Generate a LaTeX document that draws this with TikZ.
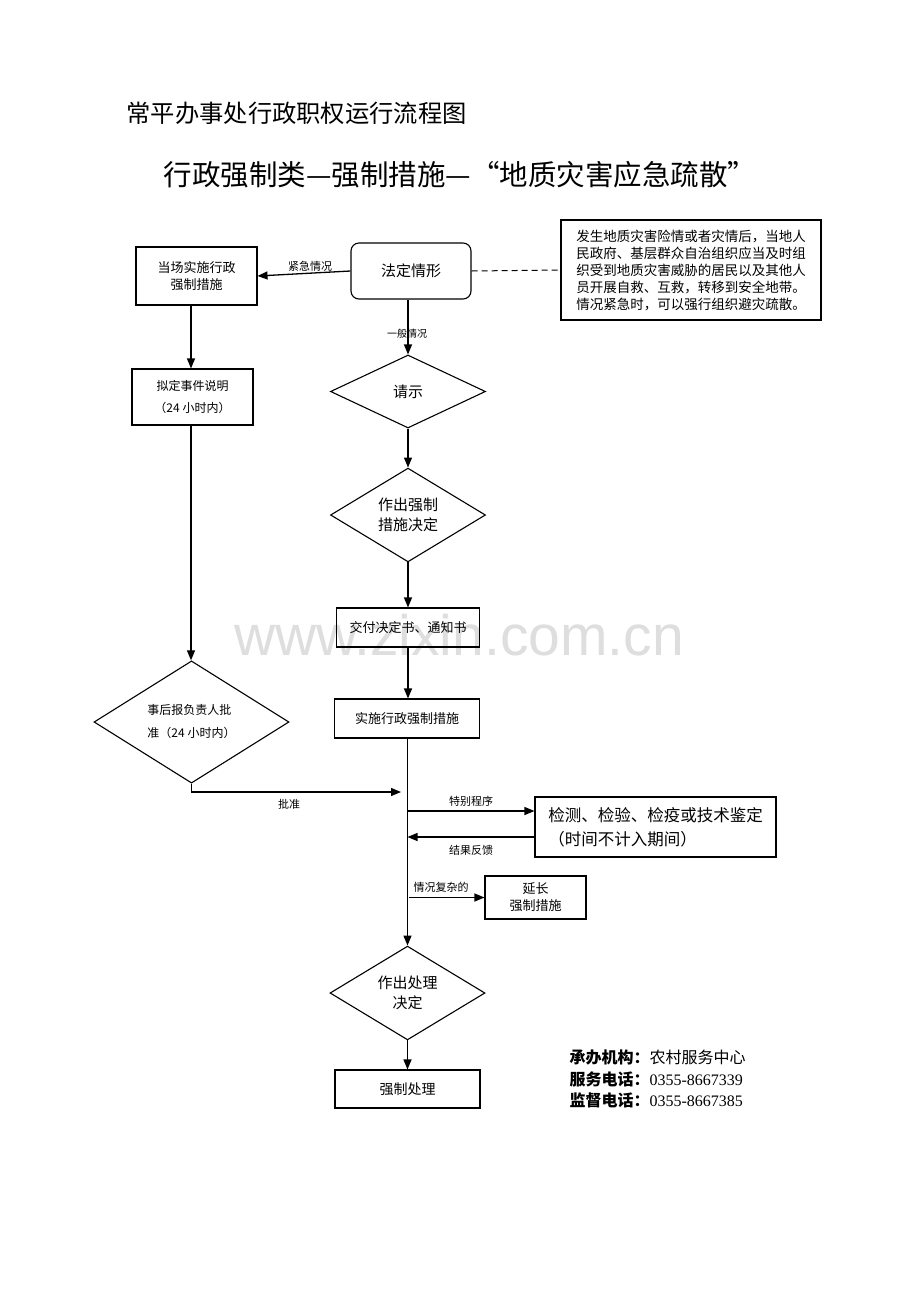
\documentclass[tikz,border=0pt]{standalone}
\usepackage{fontspec}
\setmainfont{Liberation Serif}
\newfontfamily\cjk{Noto Sans CJK SC}
\newfontfamily\wmfont{Liberation Sans}
\usetikzlibrary{arrows.meta,shapes.geometric}
\newcommand\fsz[2]{\fontsize{#1}{#2}\selectfont}
\begin{document}
\begin{tikzpicture}[x=1pt,y=-1pt,
  line width=1.1pt,
  box/.style={draw, rectangle, inner sep=0pt, align=center, font=\cjk\fsz{13}{17}},
  dia/.style={draw, diamond, inner sep=0pt, align=center, font=\cjk\fsz{15}{20}},
  arr/.style={line width=1.3pt, -{Triangle[length=10pt,width=8pt]}},
  lbl/.style={inner sep=1pt, font=\cjk\fsz{11}{13}}
]
\useasboundingbox (0,0) rectangle (920,1302);
\fill[white] (0,0) rectangle (920,1302);

% watermark
\node[text=black!13, font=\wmfont\fsz{57}{60}] (wm) at (459,635) {www.zixin.com.cn};

% titles
\node[anchor=west, inner sep=0pt, font=\cjk\fsz{24.3}{28}] (t1) at (126,113) {常平办事处行政职权运行流程图};
\node[inner sep=0pt, font=\cjk\fsz{28.5}{32}] (t2) at (460,175) {行政强制类—强制措施—“地质灾害应急疏散”};

% nodes
\node[box, minimum width=121pt, minimum height=58pt] (dc) at (196.5,276) {当场实施行政\\强制措施};
\node[box, rounded corners=8pt, minimum width=120pt, minimum height=56pt, font=\cjk\fsz{15}{19}] (fd) at (411,271) {法定情形};
\node[box, minimum width=260pt, minimum height=100pt, align=left, font=\cjk\fsz{13.5}{17}] (note) at (691,270) {发生地质灾害险情或者灾情后，当地人\\民政府、基层群众自治组织应当及时组\\织受到地质灾害威胁的居民以及其他人\\员开展自救、互救，转移到安全地带。\\情况紧急时，可以强行组织避灾疏散。};
\node[dia, minimum width=155pt, minimum height=73pt] (qs) at (408,391.5) {请示};
\node[dia, minimum width=155pt, minimum height=86pt] (zc) at (408,515) {作出强制\\措施决定};
\node[box, minimum width=143pt, minimum height=39pt] (jf) at (408,627.5) {交付决定书、通知书};
\node[box, minimum width=145pt, minimum height=39pt] (ss) at (407,718.5) {实施行政强制措施};
\node[box, minimum width=121pt, minimum height=56pt, font=\cjk\fsz{12}{22}] (nd) at (192.5,397) {拟定事件说明\\{\cjk （}24 {\cjk 小时内）}};
\node[dia, minimum width=195pt, minimum height=90pt, align=left, font=\cjk\fsz{12}{23}] (sh) at (191.5,722) {事后报负责人批\\准{\cjk （}24 {\cjk 小时内）}};
\node[box, minimum width=241pt, minimum height=60pt, align=left, font=\cjk\fsz{16.5}{24}] (jc) at (655.5,827) {检测、检验、检疫或技术鉴定\\（时间不计入期间）};
\node[box, minimum width=101pt, minimum height=43pt] (yc) at (535.5,897.5) {延长\\强制措施};
\node[dia, minimum width=155pt, minimum height=88pt] (cl) at (407.5,993) {作出处理\\决定};
\node[box, minimum width=145pt, minimum height=38pt, font=\cjk\fsz{14}{18}] (qz) at (407.5,1089) {强制处理};

% connectors
\draw[dashed, dash pattern=on 6pt off 4pt, line width=1pt] (fd.east) -- (note.west);
\draw[arr] (fd.west) -- (dc.east);
\node[lbl] (l1) at (310,266) {紧急情况};
\draw[arr] (fd.south -| qs.north) -- (qs.north);
\node[lbl, font=\cjk\fsz{10}{12}] (l2) at (407,334) {一般情况};
\draw[arr] (qs.south) -- (zc.north);
\draw[arr] (zc.south) -- (jf.north);
\draw[arr] (jf.south) -- (jf.south |- ss.north);
\draw[arr] (dc.south -| 191,0) -- (nd.north -| 191,0);
\draw[arr] (nd.south -| 191,0) -- (sh.north -| 191,0);
\draw[arr] (ss.south -| cl.north) -- (cl.north);
\coordinate (j1) at (401,792);
\draw[arr] (sh.south) |- (j1);
\node[lbl] (l3) at (289,804) {批准};
\coordinate (j2) at (407.5,811);
\draw[arr] (j2) -- (j2 -| jc.west);
\node[lbl] (l4) at (471,801) {特别程序};
\coordinate (j3) at (407.5,837);
\draw[arr] (j3 -| jc.west) -- (j3);
\node[lbl] (l5) at (471,850) {结果反馈};
\coordinate (j4) at (409,897.5);
\draw[arr] (j4) -- (yc.west);
\node[lbl] (l6) at (441,887) {情况复杂的};
\draw[arr] (cl.south) -- (qz.north);

% footer
\node[anchor=west, inner sep=0pt, font=\fsz{16}{20}] (f1) at (569,1057) {{\cjk\bfseries 承办机构：}{\cjk 农村服务中心}};
\node[anchor=west, inner sep=0pt, font=\fsz{16}{20}] (f2) at (569,1079) {{\cjk\bfseries 服务电话：}0355-8667339};
\node[anchor=west, inner sep=0pt, font=\fsz{16}{20}] (f3) at (569,1100) {{\cjk\bfseries 监督电话：}0355-8667385};
\end{tikzpicture}
\end{document}
